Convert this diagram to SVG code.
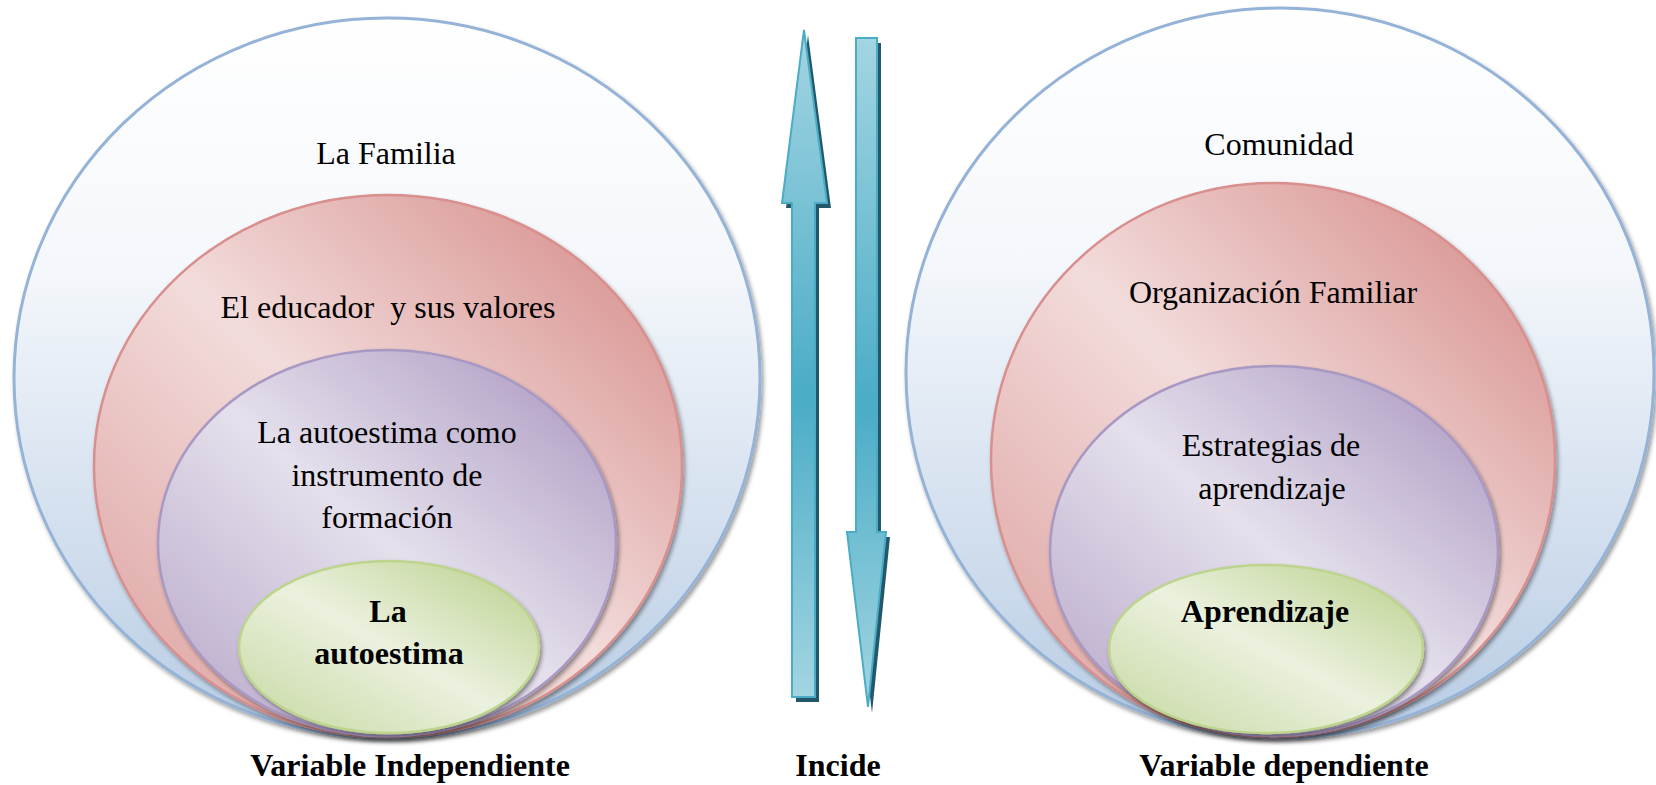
<svg xmlns="http://www.w3.org/2000/svg" width="1656" height="785" viewBox="0 0 1656 785">
<defs>
<linearGradient id="gBlue" x1="0" y1="0" x2="0" y2="1">
<stop offset="0" stop-color="#ffffff"/>
<stop offset="0.35" stop-color="#f4f7fb"/>
<stop offset="1" stop-color="#b8cce4"/>
</linearGradient>
<linearGradient id="gRed" x1="1" y1="0" x2="0" y2="1">
<stop offset="0.1" stop-color="#d99694"/>
<stop offset="0.5" stop-color="#f2dcdb"/>
<stop offset="0.95" stop-color="#dea4a2"/>
</linearGradient>
<linearGradient id="gPurple" x1="1" y1="0" x2="0" y2="1">
<stop offset="0.1" stop-color="#b3a2c7"/>
<stop offset="0.5" stop-color="#e5e0ec"/>
<stop offset="0.95" stop-color="#b9aacb"/>
</linearGradient>
<linearGradient id="gGreen" x1="1" y1="0" x2="0" y2="1">
<stop offset="0.1" stop-color="#c3d69b"/>
<stop offset="0.5" stop-color="#ebf1de"/>
<stop offset="0.95" stop-color="#c9daa6"/>
</linearGradient>
<linearGradient id="gArrow" x1="0" y1="0" x2="0" y2="1">
<stop offset="0" stop-color="#a3d5e2"/>
<stop offset="0.55" stop-color="#4aacc6"/>
<stop offset="1" stop-color="#a3d5e2"/>
</linearGradient>
<filter id="sh" x="-5%" y="-5%" width="110%" height="112%">
<feDropShadow dx="2" dy="3" stdDeviation="2" flood-color="#000" flood-opacity="0.4"/>
</filter>
<filter id="ash" x="-20%" y="-5%" width="140%" height="110%">
<feGaussianBlur stdDeviation="0.6"/>
</filter>
</defs>
<style>
.t{font-family:"Liberation Serif","Times New Roman",serif;font-size:32px;fill:#000;text-anchor:middle}
.b{font-weight:bold}
.blue{fill:url(#gBlue);stroke:#95b3d7;stroke-width:3;filter:url(#sh)}
.red{fill:url(#gRed);stroke:#d88f8d;stroke-width:2.5;filter:url(#sh)}
.purple{fill:url(#gPurple);stroke:#a898c4;stroke-width:2.5;filter:url(#sh)}
.green{fill:url(#gGreen);stroke:#bcd48c;stroke-width:2.5;filter:url(#sh)}
.arrow{fill:url(#gArrow);stroke:#4bacc6;stroke-width:2;stroke-linejoin:miter}
.ashadow{fill:#23596a;filter:url(#ash)}
</style>
<rect width="1656" height="785" fill="#ffffff"/>

<g id="familia">
<ellipse class="blue" cx="387" cy="378" rx="373" ry="360"/>
<text class="t" x="386" y="164">La Familia</text>
</g>
<g id="educador">
<ellipse class="red" cx="388" cy="466" rx="294" ry="271"/>
<text class="t" x="388" y="318" xml:space="preserve">El educador  y sus valores</text>
</g>
<g id="instrumento">
<ellipse class="purple" cx="387" cy="543" rx="229" ry="193"/>
<text class="t" x="387" y="443">La autoestima como</text>
<text class="t" x="387" y="486">instrumento de</text>
<text class="t" x="387" y="528">formación</text>
</g>
<g id="autoestima">
<ellipse class="green" cx="389" cy="647" rx="150" ry="86"/>
<text class="t b" x="388" y="622">La</text>
<text class="t b" x="389" y="664">autoestima</text>
</g>
<g id="label-independiente">
<text class="t b" x="410" y="776">Variable Independiente</text>
</g>

<g id="comunidad">
<ellipse class="blue" cx="1280" cy="373" rx="374" ry="365"/>
<text class="t" x="1279" y="155">Comunidad</text>
</g>
<g id="organizacion">
<ellipse class="red" cx="1273" cy="460" rx="282" ry="277"/>
<text class="t" x="1273" y="303">Organización Familiar</text>
</g>
<g id="estrategias">
<ellipse class="purple" cx="1274" cy="551" rx="224" ry="185"/>
<text class="t" x="1271" y="456">Estrategias de</text>
<text class="t" x="1272" y="499">aprendizaje</text>
</g>
<g id="aprendizaje">
<ellipse class="green" cx="1266" cy="649" rx="157" ry="84"/>
<text class="t b" x="1265" y="622">Aprendizaje</text>
</g>
<g id="label-dependiente">
<text class="t b" x="1284" y="776">Variable dependiente</text>
</g>

<g id="connectors">
<polygon class="ashadow" points="808,35 831,208 819,208 819,702 796,702 796,208 786,208"/>
<polygon class="arrow" points="804,30 827,203 815,203 815,697 792,697 792,203 782,203"/>
<polygon class="ashadow" points="860,43 881,43 881,537 890,537 872,713 851,537 860,537"/>
<polygon class="arrow" points="856,38 877,38 877,532 886,532 868,707 847,532 856,532"/>
</g>
<g id="label-incide">
<text class="t b" x="838" y="776">Incide</text>
</g>
</svg>
